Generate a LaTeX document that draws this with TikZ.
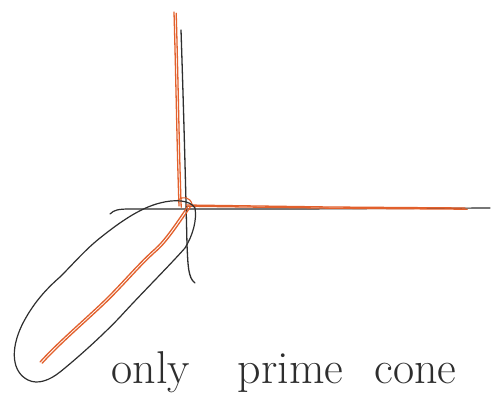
\documentclass[tikz,border=0pt]{standalone}
\usetikzlibrary{calc}
\definecolor{inkblack}{HTML}{2E2E2E}
\definecolor{inkorange}{HTML}{E2602C}

\begin{document}
\begin{tikzpicture}[x=1pt, y=-1pt, line cap=round, line join=round]

% Canvas
\useasboundingbox (0,0) rectangle (492,401);
\fill[white] (0,0) rectangle (492,401);

% ============================================================
% Axes (black pen)
% ============================================================
\draw[inkblack, line width=1.3pt] (181,30) .. controls (184,120) and (186,200) .. (187,245)
  .. controls (188,265) and (188,278) .. (195,283);
\draw[inkblack, line width=1.2pt] (110,214) .. controls (114,210) and (118,209) .. (130,209)
  -- (300,209) -- (490,208);

% ============================================================
% Cone rays (orange pen, traced twice)
% ============================================================
\foreach \dx/\dy in {0/0, 2.2/1.2} {
  \draw[inkorange, line width=1.3pt, shift={(\dx,\dy)}] (174,12) .. controls (176,80) and (177,150) .. (179,206);
  \draw[inkorange, line width=1.3pt, shift={(\dx,\dy)}] (186,205) -- (330,207) -- (465,208);
  \draw[inkorange, line width=1.3pt, shift={(\dx,\dy)}] (188,206)
    .. controls (175,225) and (165,240) .. (155,249)
    .. controls (140,262) and (125,280) .. (108,297)
    .. controls (90,315) and (60,340) .. (40,362);
}
\draw[inkorange, line width=1.1pt] (178,200) .. controls (183,196) and (190,197) .. (192,204);

% ============================================================
% Loop round the negative ray (black pen)
% ============================================================
\draw[inkblack, line width=1.2pt]
  (160,203) .. controls (175,199) and (190,200) .. (195,208)
  .. controls (197,220) and (193,235) .. (185,248)
  .. controls (170,265) and (140,295) .. (120,317)
  .. controls (100,338) and (75,360) .. (60,372)
  .. controls (50,380) and (38,385) .. (28,380)
  .. controls (12,372) and (10,350) .. (22,325)
  .. controls (32,305) and (45,290) .. (60,277)
  .. controls (75,262) and (85,250) .. (100,238)
  .. controls (120,222) and (140,208) .. (160,203);

% ============================================================
% Caption
% ============================================================
\node[inkblack, font=\fontsize{46}{50}\selectfont, anchor=base west] (caption) at (108,383)
  {only\hspace{48pt}prime\hspace{31pt}cone};

\end{tikzpicture}
\end{document}
